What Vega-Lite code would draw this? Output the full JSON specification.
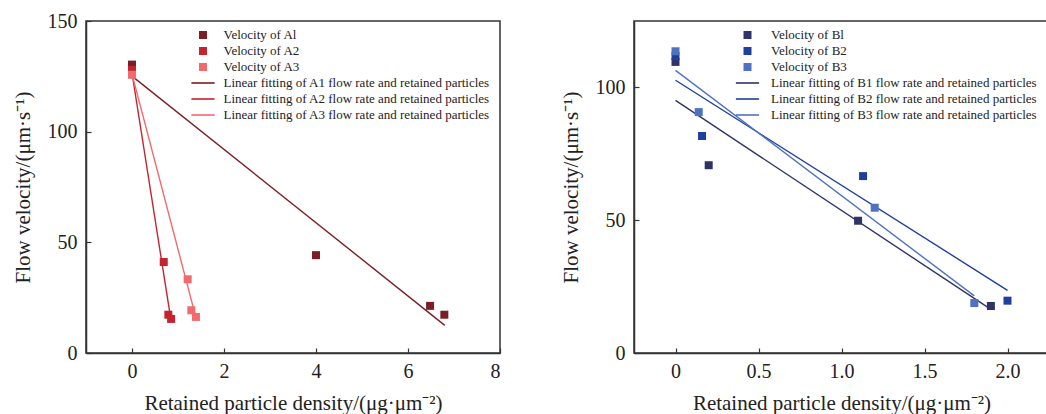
{
  "$schema": "https://vega.github.io/schema/vega-lite/v6.json",
  "padding": {"left": 11, "top": 10, "right": 0, "bottom": 0},
  "background": "white",
  "bounds": "flush",
  "spacing": 134,
  "config": {
    "font": "Liberation Serif",
    "view": {"stroke": "#333", "strokeWidth": 1.5},
    "axis": {
      "labelFont": "Liberation Serif", "titleFont": "Liberation Serif",
      "labelFontSize": 20, "titleFontSize": 21, "titleFontWeight": "normal",
      "labelColor": "#222", "titleColor": "#222",
      "domainColor": "#333", "domainWidth": 1.5, "tickColor": "#333", "tickWidth": 1.2,
      "tickSize": -5, "grid": false
    },
    "axisX": {"labelPadding": 13, "titlePadding": 11},
    "axisY": {"labelPadding": 14, "titlePadding": 14},
    "legend": {
      "labelFont": "Liberation Serif", "labelFontSize": 13, "labelColor": "#222", "labelLimit": 0,
      "padding": 0, "rowPadding": 2, "title": null, "orient": "none"
    }
  },
  "datasets": {
    "pts": [
      {"panel": "A", "series": "Velocity of Al", "x": 0, "y": 130.3},
      {"panel": "A", "series": "Velocity of Al", "x": 4, "y": 44.2},
      {"panel": "A", "series": "Velocity of Al", "x": 6.48, "y": 21.3},
      {"panel": "A", "series": "Velocity of Al", "x": 6.79, "y": 17.3},
      {"panel": "A", "series": "Velocity of A2", "x": 0, "y": 127.9},
      {"panel": "A", "series": "Velocity of A2", "x": 0.69, "y": 41.1},
      {"panel": "A", "series": "Velocity of A2", "x": 0.79, "y": 17.3},
      {"panel": "A", "series": "Velocity of A2", "x": 0.85, "y": 15.4},
      {"panel": "A", "series": "Velocity of A3", "x": 0, "y": 125.7},
      {"panel": "A", "series": "Velocity of A3", "x": 1.21, "y": 33.3},
      {"panel": "A", "series": "Velocity of A3", "x": 1.29, "y": 19.3},
      {"panel": "A", "series": "Velocity of A3", "x": 1.39, "y": 16.3},
      {"panel": "B", "series": "Velocity of Bl", "x": 0, "y": 109.6},
      {"panel": "B", "series": "Velocity of Bl", "x": 0.2, "y": 70.7},
      {"panel": "B", "series": "Velocity of Bl", "x": 1.1, "y": 49.8},
      {"panel": "B", "series": "Velocity of Bl", "x": 1.9, "y": 17.7},
      {"panel": "B", "series": "Velocity of B2", "x": 0, "y": 111.8},
      {"panel": "B", "series": "Velocity of B2", "x": 0.16, "y": 81.7},
      {"panel": "B", "series": "Velocity of B2", "x": 1.13, "y": 66.6},
      {"panel": "B", "series": "Velocity of B2", "x": 2.0, "y": 19.7},
      {"panel": "B", "series": "Velocity of B3", "x": 0, "y": 113.6},
      {"panel": "B", "series": "Velocity of B3", "x": 0.14, "y": 90.7},
      {"panel": "B", "series": "Velocity of B3", "x": 1.2, "y": 54.7},
      {"panel": "B", "series": "Velocity of B3", "x": 1.8, "y": 18.8}
    ],
    "fits": [
      {"panel": "A", "fit": "Linear fitting of A1 flow rate and retained particles", "x": 0, "y": 125.1},
      {"panel": "A", "fit": "Linear fitting of A1 flow rate and retained particles", "x": 6.8, "y": 12.5},
      {"panel": "A", "fit": "Linear fitting of A2 flow rate and retained particles", "x": 0, "y": 126.5},
      {"panel": "A", "fit": "Linear fitting of A2 flow rate and retained particles", "x": 0.85, "y": 14.5},
      {"panel": "A", "fit": "Linear fitting of A3 flow rate and retained particles", "x": 0, "y": 126},
      {"panel": "A", "fit": "Linear fitting of A3 flow rate and retained particles", "x": 1.39, "y": 16},
      {"panel": "B", "fit": "Linear fitting of B1 flow rate and retained particles", "x": 0, "y": 95.1},
      {"panel": "B", "fit": "Linear fitting of B1 flow rate and retained particles", "x": 1.9, "y": 16.4},
      {"panel": "B", "fit": "Linear fitting of B2 flow rate and retained particles", "x": 0, "y": 102.7},
      {"panel": "B", "fit": "Linear fitting of B2 flow rate and retained particles", "x": 2.0, "y": 23.6},
      {"panel": "B", "fit": "Linear fitting of B3 flow rate and retained particles", "x": 0, "y": 106.4},
      {"panel": "B", "fit": "Linear fitting of B3 flow rate and retained particles", "x": 1.8, "y": 21.5}
    ]
  },
  "resolve": {"scale": {"x": "independent", "y": "independent", "fill": "independent", "stroke": "independent"}},
  "hconcat": [
    {
      "width": 414, "height": 332,
      "layer": [
        {
          "data": {"name": "fits"},
          "transform": [{"filter": "datum.panel === 'A'"}],
          "mark": {"type": "line", "strokeWidth": 1.4},
          "encoding": {
            "x": {"field": "x", "type": "quantitative", "scale": {"domain": [-1, 8], "nice": false, "zero": false},
                  "axis": {"values": [0, 2, 4, 6, 8], "title": "Retained particle density/(μg·μm⁻²)"}},
            "y": {"field": "y", "type": "quantitative", "scale": {"domain": [0, 150], "nice": false},
                  "axis": {"values": [0, 50, 100, 150], "title": "Flow velocity/(μm·s⁻¹)"}},
            "stroke": {"field": "fit", "type": "nominal",
              "scale": {"domain": ["Linear fitting of A1 flow rate and retained particles", "Linear fitting of A2 flow rate and retained particles", "Linear fitting of A3 flow rate and retained particles"],
                        "range": ["#7a1f25", "#c4242f", "#f06a6e"]},
              "legend": {"legendX": 110.5, "legendY": 55.5, "symbolType": "M-2.9,0H2.9", "symbolSize": 64, "symbolStrokeWidth": 1.6, "labelOffset": 14}}
          }
        },
        {
          "data": {"name": "pts"},
          "transform": [{"filter": "datum.panel === 'A'"}],
          "mark": {"type": "point", "shape": "square", "filled": true, "size": 64, "opacity": 1},
          "encoding": {
            "x": {"field": "x", "type": "quantitative"},
            "y": {"field": "y", "type": "quantitative"},
            "fill": {"field": "series", "type": "nominal",
              "scale": {"domain": ["Velocity of Al", "Velocity of A2", "Velocity of A3"], "range": ["#7a1f25", "#c4242f", "#f06a6e"]},
              "legend": {"legendX": 110.5, "legendY": 7.5, "symbolType": "square", "symbolSize": 64, "labelOffset": 14}}
          }
        }
      ]
    },
    {
      "width": 415, "height": 332,
      "layer": [
        {
          "data": {"name": "fits"},
          "transform": [{"filter": "datum.panel === 'B'"}],
          "mark": {"type": "line", "strokeWidth": 1.4},
          "encoding": {
            "x": {"field": "x", "type": "quantitative", "scale": {"domain": [-0.25, 2.25], "nice": false, "zero": false},
                  "axis": {"values": [0, 0.5, 1, 1.5, 2], "labelExpr": "datum.value === 0 ? '0' : format(datum.value, '.1f')", "title": "Retained particle density/(μg·μm⁻²)"}},
            "y": {"field": "y", "type": "quantitative", "scale": {"domain": [0, 125], "nice": false},
                  "axis": {"values": [0, 50, 100], "title": "Flow velocity/(μm·s⁻¹)"}},
            "stroke": {"field": "fit", "type": "nominal",
              "scale": {"domain": ["Linear fitting of B1 flow rate and retained particles", "Linear fitting of B2 flow rate and retained particles", "Linear fitting of B3 flow rate and retained particles"],
                        "range": ["#2e3468", "#1f3f9c", "#4f72c0"]},
              "legend": {"legendX": 107, "legendY": 55.5, "symbolType": "M-2.9,0H2.9", "symbolSize": 64, "symbolStrokeWidth": 1.6, "labelOffset": 17}}
          }
        },
        {
          "data": {"name": "pts"},
          "transform": [{"filter": "datum.panel === 'B'"}],
          "mark": {"type": "point", "shape": "square", "filled": true, "size": 64, "opacity": 1},
          "encoding": {
            "x": {"field": "x", "type": "quantitative"},
            "y": {"field": "y", "type": "quantitative"},
            "fill": {"field": "series", "type": "nominal",
              "scale": {"domain": ["Velocity of Bl", "Velocity of B2", "Velocity of B3"], "range": ["#2e3468", "#1f3f9c", "#4f72c0"]},
              "legend": {"legendX": 107, "legendY": 7.5, "symbolType": "square", "symbolSize": 64, "labelOffset": 17}}
          }
        }
      ]
    }
  ]
}
